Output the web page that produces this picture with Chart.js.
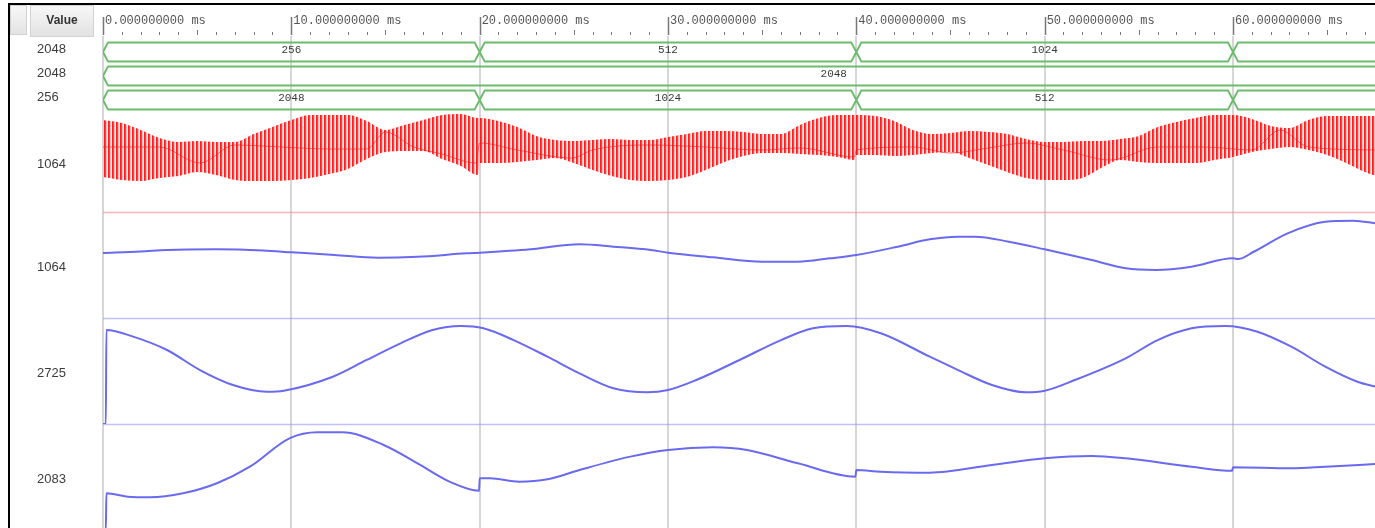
<!DOCTYPE html>
<html>
<head>
<meta charset="utf-8">
<title>Waveform</title>
<script src="https://cdn.jsdelivr.net/npm/chart.js"></script>
<style>
    html, body { margin: 0; padding: 0; background: #fff; overflow: hidden; }
    #wrap { position: relative; width: 1375px; height: 530px; }
</style>
</head>
<body>
<div id="wrap"><canvas id="wave" width="1375" height="530"></canvas></div>
<script>
// --- time axis (ms) ---
const timeMax = 67.54;
const majorTicks = [0, 10, 20, 30, 40, 50, 60];
const tickLabels = ["0.000000000 ms", "10.000000000 ms", "20.000000000 ms", "30.000000000 ms",
                    "40.000000000 ms", "50.000000000 ms", "60.000000000 ms"];

// --- value column ---
const valueLabels = ["2048", "2048", "256", "1064", "1064", "2725", "2083"];

// --- bus signals (segment start times, ms) ---
const simEnd = 77.6;
const bus1Starts = [0, 20, 40, 60];
const bus1Values = ["256", "512", "1024", "2048"];
const bus2Starts = [0];
const bus2Values = ["2048"];
const bus3Starts = [0, 20, 40, 60];
const bus3Values = ["2048", "1024", "512", "256"];

// --- red analog signal: band edges and inner trace (% of full scale) ---
const redTimes = [0, 1, 2, 3, 4, 5, 6, 7, 8, 9, 10, 11, 12, 13, 14, 15, 16, 17, 18, 19, 19.9,
                  20, 21, 22, 23, 24, 25, 26, 27, 28, 29, 30, 31, 32, 33, 34, 35, 36, 37, 38, 39, 39.9,
                  40, 41, 42, 43, 44, 45, 46, 47, 48, 49, 50, 51, 52, 53, 54, 55, 56, 57, 58, 59,
                  60, 61, 62, 63, 64, 65, 66, 67, 67.6];
const redTop = [92, 89, 82, 74, 70, 71, 70, 70, 78, 85, 92, 97, 97, 97, 91, 82, 87, 92, 97, 98, 94,
                94, 91, 85, 76, 72, 71, 72, 73, 72, 72, 75, 78, 81, 81, 80, 78, 78, 87, 94, 97, 97,
                97, 96, 91, 82, 78, 79, 81, 80, 78, 73, 70, 70, 71, 71, 73, 76, 85, 90, 94, 97,
                97, 93, 86, 84, 92, 96, 96, 96, 96];
const redBottom = [35, 32, 31, 34, 36, 40, 37, 32, 31, 31, 32, 34, 38, 43, 53, 60, 61, 61, 53, 46, 37,
                   49, 49, 50, 52, 54, 49, 42, 36, 32, 31, 32, 35, 42, 50, 56, 59, 59, 58, 57, 55, 52,
                   57, 57, 56, 57, 59, 60, 54, 47, 40, 34, 32, 32, 34, 44, 52, 50, 49, 49, 49, 52,
                   55, 60, 63, 65, 62, 57, 49, 40, 36];
const redMidTimes = [0, 3, 5.15, 7, 9.5, 12, 14, 15, 16.5, 18, 19.8, 20, 22, 24.9, 26, 29, 32, 35, 37, 39.9,
                     40, 43, 45, 47, 49, 51, 53.5, 56, 58.5, 61, 62.5, 64, 67.6];
const redMid = [65, 65, 49, 67, 65, 63, 63, 80, 65, 58, 49, 69, 62, 54, 62, 67, 65, 62, 64, 55,
                62, 65, 59, 64, 69, 62, 52, 65, 65, 62, 82, 65, 62];

// --- blue analog signals (% of full scale) ---
const a1Times = [0, 2, 3.4, 6, 8.5, 10, 12.3, 14.6, 16.7, 19.3, 20, 22.7, 25.3, 27.1, 29.1, 30, 32.4, 35, 36.9, 38.6,
                 40, 42.2, 43.9, 45.4, 46.3, 48.1, 50, 52.5, 54.3, 55.9, 57.8, 60, 60.3, 61.1, 62.9, 64.9, 66.4, 67.6];
const a1Values = [61.3, 62.7, 64.2, 64.8, 63.7, 62.0, 59.4, 56.9, 57.8, 61.0, 61.6, 64.8, 69.5, 67.3, 64.2, 61.6, 57.3, 53.1, 53.1, 56.3,
                  59.4, 67.3, 74.2, 76.7, 76.7, 72.0, 64.8, 54.7, 46.9, 45.3, 48.4, 56.3, 55.7, 62.5, 79.9, 90.8, 91.8, 89.3];

const a2Times = [0, 0.15, 0.18, 1.6, 3.4, 5.15, 6.9, 8.7, 9.6, 12.2, 14.0, 15.8, 17.5, 19.0, 20.2, 21.8, 23.6, 25.3, 27.1,
                 28.9, 30, 31.5, 33.8, 36.0, 37.7, 39.5, 41.3, 43.9, 45.4, 47.2, 49.0, 50, 51.6, 54.3, 56.0, 57.8, 59.6,
                 61.3, 63.1, 64.9, 66.6, 67.6];
const a2Values = [0, 0, 88.7, 82.4, 69.8, 50.9, 36.8, 30.5, 31.4, 44.6, 60.4, 76.1, 88.7, 92.5, 90.3, 79.2, 63.5, 47.8, 33.7,
                  29.9, 32.1, 41.5, 60.4, 79.2, 90.3, 92.5, 85.6, 63.5, 50.9, 36.8, 29.9, 31.4, 41.5, 62.0, 79.2, 90.3, 92.5,
                  87.1, 72.9, 54.1, 39.9, 35.2];

const a3Times = [0, 0.15, 0.18, 1.3, 2.5, 4.25, 6.05, 7.8, 9.9, 11.4, 12.7, 14.9, 16.7, 18.4, 19.97, 20.0, 20.55, 22.1, 23.6, 25.3,
                 28.0, 30, 32.4, 34.2, 36.9, 39.95, 40.0, 41.3, 43.9, 47.2, 50, 52.5, 54.3, 57.8, 59.95, 60.0, 63.1, 64.9, 67.6];
const a3Values = [0, 0, 34.6, 31.4, 30.8, 34.6, 44.1, 59.7, 86.5, 92.2, 92.2, 80.2, 62.9, 45.6, 37.1, 48.8, 48.8, 45.6, 47.8, 56.6,
                  69.2, 75.5, 78.0, 75.5, 62.9, 50.3, 56.6, 55.0, 54.1, 61.3, 67.6, 69.8, 67.6, 59.7, 55.9, 59.2, 58.2, 59.7, 62.3];

// --- styles ---
const BUS_HI = 0.9, BUS_LO = 0.1, BUS_MID = 0.5, BUS_SLANT = 0.27;
const GREEN = "#6cbc6c";
const BLUE = "#6a6af0";
const MONO = '"Liberation Mono", "Courier New", monospace';
const SANS = '"Liberation Sans", Arial, sans-serif';

const zip = (xs, ys) => xs.map((x, i) => ({ x: x, y: ys[i] }));

function busOutline(starts, end) {
    const pts = [];
    starts.forEach((a, i) => {
        const b = i + 1 < starts.length ? starts[i + 1] : end;
        pts.push({ x: a, y: BUS_MID }, { x: a + BUS_SLANT, y: BUS_HI }, { x: b - BUS_SLANT, y: BUS_HI },
                 { x: b, y: BUS_MID }, { x: b - BUS_SLANT, y: BUS_LO }, { x: a + BUS_SLANT, y: BUS_LO },
                 { x: a, y: BUS_MID }, { x: b, y: null });
    });
    return pts;
}

// stripe pattern for the fast-toggling red signal
function stripePattern() {
    const c = document.createElement("canvas");
    c.width = 4; c.height = 4;
    const p = c.getContext("2d");
    p.fillStyle = "rgba(255, 10, 10, 0.92)";
    p.fillRect(0, 0, 1, 4);
    p.fillStyle = "rgba(255, 30, 30, 0.85)";
    p.fillRect(1, 0, 1, 4);
    p.fillStyle = "rgba(255, 90, 90, 0.4)";
    p.fillRect(2, 0, 1, 4);
    p.fillStyle = "rgba(255, 180, 180, 0.15)";
    p.fillRect(3, 0, 1, 4);
    return p.createPattern(c, "repeat");
}

const busRows = [
    { axis: "yBus1", starts: bus1Starts, values: bus1Values },
    { axis: "yBus2", starts: bus2Starts, values: bus2Values },
    { axis: "yBus3", starts: bus3Starts, values: bus3Values }
];
const rowOrder = ["yBus1", "yBus2", "yBus3", "yRed", "yA1", "yA2", "yA3"];
const baselines = [["yRed", "rgba(245, 150, 150, 0.7)"], ["yA1", "rgba(150, 150, 250, 0.6)"], ["yA2", "rgba(150, 150, 250, 0.6)"]];

const wavePanel = {
    id: "wavePanel",
    beforeDatasetsDraw(chart) {
        const ctx = chart.ctx;
        const xs = chart.scales.x;
        const area = chart.chartArea;
        ctx.save();
        // vertical grid at major ticks
        ctx.strokeStyle = "rgba(200, 200, 200, 0.75)";
        ctx.lineWidth = 2;
        majorTicks.forEach(t => {
            const px = Math.round(xs.getPixelForValue(t));
            ctx.beginPath();
            ctx.moveTo(px, 36);
            ctx.lineTo(px, area.bottom);
            ctx.stroke();
        });
        // analog row baselines
        baselines.forEach(([id, color]) => {
            const s = chart.scales[id];
            const py = Math.round(s.getPixelForValue(s.min)) + 0.5;
            ctx.strokeStyle = color;
            ctx.lineWidth = 1.5;
            ctx.beginPath();
            ctx.moveTo(area.left, py);
            ctx.lineTo(area.right, py);
            ctx.stroke();
        });
        ctx.restore();
    },
    afterDatasetsDraw(chart) {
        const ctx = chart.ctx;
        const xs = chart.scales.x;
        ctx.save();
        ctx.font = "11px " + MONO;
        ctx.fillStyle = "#3a3a3a";
        ctx.textAlign = "center";
        ctx.textBaseline = "middle";
        busRows.forEach(row => {
            const ys = chart.scales[row.axis];
            row.starts.forEach((a, i) => {
                const b = i + 1 < row.starts.length ? row.starts[i + 1] : simEnd;
                const mid = (a + b) / 2;
                if (mid > xs.max) return;
                ctx.fillText(row.values[i], xs.getPixelForValue(mid), ys.getPixelForValue(BUS_MID) - 1.5);
            });
        });
        ctx.restore();
    },
    afterDraw(chart) {
        const ctx = chart.ctx;
        const xs = chart.scales.x;
        ctx.save();
        // frame
        ctx.fillStyle = "#000";
        ctx.fillRect(8, 3, 1367, 2);
        ctx.fillRect(8, 3, 2, 527);
        // header cells
        const g = ctx.createLinearGradient(0, 6, 0, 36);
        g.addColorStop(0, "#f7f7f7");
        g.addColorStop(1, "#e2e2e2");
        ctx.fillStyle = g;
        ctx.fillRect(11, 6, 15, 28);
        ctx.fillRect(31, 6, 62, 30);
        ctx.strokeStyle = "#d2d2d2";
        ctx.lineWidth = 1;
        ctx.strokeRect(10.5, 5.5, 16, 29);
        ctx.strokeRect(30.5, 5.5, 63, 31);
        ctx.fillStyle = "#333";
        ctx.font = "bold 12px " + SANS;
        ctx.textAlign = "center";
        ctx.textBaseline = "middle";
        ctx.fillText("Value", 62, 21);
        // value column
        ctx.font = "13px " + SANS;
        ctx.textAlign = "left";
        ctx.fillStyle = "#3c3c3c";
        rowOrder.forEach((id, i) => {
            const s = chart.scales[id];
            const cy = (s.top + s.bottom) / 2 + (i < 3 ? -2.5 : 2.5);
            ctx.fillText(valueLabels[i], 37, cy);
        });
        // time ruler
        ctx.strokeStyle = "#777";
        for (let k = 0; k <= Math.floor(timeMax); k++) {
            const px = Math.round(xs.getPixelForValue(k)) + 0.5;
            let top = 32;
            ctx.lineWidth = 1;
            if (k % 10 === 0) { top = 17; ctx.lineWidth = 1.5; }
            else if (k % 5 === 0) { top = 30; }
            ctx.beginPath();
            ctx.moveTo(px, top);
            ctx.lineTo(px, 35);
            ctx.stroke();
        }
        ctx.font = "12px " + MONO;
        ctx.fillStyle = "#555";
        ctx.textAlign = "left";
        ctx.textBaseline = "middle";
        majorTicks.forEach((t, i) => {
            ctx.fillText(tickLabels[i], xs.getPixelForValue(t) + 2, 21);
        });
        ctx.restore();
    }
};

const analog = (data, axis) => ({
    data: data,
    yAxisID: axis,
    borderColor: BLUE,
    borderWidth: 2,
    cubicInterpolationMode: "monotone",
    pointRadius: 0,
    fill: false
});

const bus = (starts, axis) => ({
    data: busOutline(starts, simEnd),
    yAxisID: axis,
    borderColor: GREEN,
    borderWidth: 2,
    pointRadius: 0,
    spanGaps: false,
    fill: false
});

const rowScale = (max, weight) => ({
    type: "linear", axis: "y", position: "left", min: 0, max: max,
    display: false, stack: "rows", stackWeight: weight
});

const ctx = document.getElementById("wave").getContext("2d");
new Chart(ctx, {
    type: "line",
    data: {
        datasets: [
            bus(bus1Starts, "yBus1"),
            bus(bus2Starts, "yBus2"),
            bus(bus3Starts, "yBus3"),
            {
                data: zip(redTimes, redTop),
                yAxisID: "yRed",
                borderWidth: 0,
                cubicInterpolationMode: "monotone",
                pointRadius: 0,
                backgroundColor: stripePattern(),
                fill: "+1"
            },
            {
                data: zip(redTimes, redBottom),
                yAxisID: "yRed",
                borderWidth: 0,
                cubicInterpolationMode: "monotone",
                pointRadius: 0,
                fill: false
            },
            {
                data: zip(redMidTimes, redMid),
                yAxisID: "yRed",
                borderColor: "rgba(220, 0, 0, 0.6)",
                borderWidth: 1,
                cubicInterpolationMode: "monotone",
                pointRadius: 0,
                fill: false
            },
            analog(zip(a1Times, a1Values), "yA1"),
            analog(zip(a2Times, a2Values), "yA2"),
            analog(zip(a3Times, a3Values), "yA3")
        ]
    },
    options: {
        responsive: false,
        animation: false,
        events: [],
        layout: { padding: { left: 103, top: 40, right: 0, bottom: 0 } },
        plugins: { legend: { display: false }, tooltip: { enabled: false } },
        scales: {
            x: { type: "linear", min: 0, max: timeMax, display: false },
            // stacked rows, listed bottom to top
            yA3: rowScale(100, 106),
            yA2: rowScale(100, 106),
            yA1: rowScale(100, 106),
            yRed: rowScale(100, 100),
            yBus3: rowScale(1, 24),
            yBus2: rowScale(1, 24),
            yBus1: rowScale(1, 24)
        }
    },
    plugins: [wavePanel]
});
</script>
</body>
</html>
